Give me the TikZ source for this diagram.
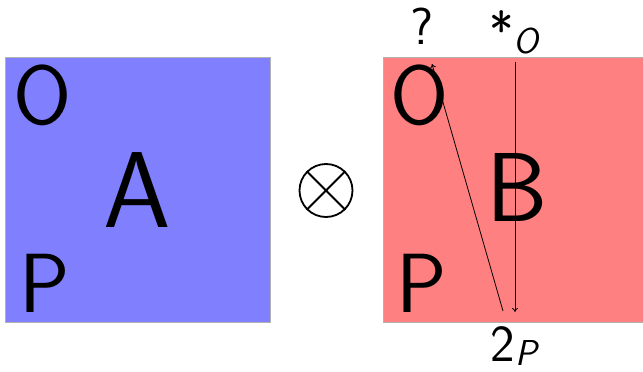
\documentclass[tikz,border=0pt]{standalone}
\usepackage{fontspec}
\usetikzlibrary{arrows.meta}
\tikzset{
  boxframe/.style={draw=black!30, line width=1pt},
  biglbl/.style={font=\sffamily\fontsize{84}{90}\selectfont, inner sep=0pt, anchor=base},
  titlelbl/.style={font=\sffamily\fontsize{#1}{#1}\selectfont, inner sep=0pt, anchor=base},
  portlbl/.style={font=\sffamily\fontsize{52}{60}\selectfont, inner sep=0pt, anchor=base},
  wire/.style={line width=0.8pt, -{To[length=4pt,width=6pt]}},
}
\newcommand{\subit}[2]{\raisebox{#1}{\fontsize{36}{40}\selectfont\itshape #2}}
\begin{document}
\begin{tikzpicture}[x=1pt,y=-1pt]
\useasboundingbox (0,0) rectangle (643,372);
\clip (0,0) rectangle (643,372);
% box A
\path[boxframe, fill={rgb,255:red,128;green,128;blue,255}] (5,57) rectangle (270,322);
% box B
\path[boxframe, fill={rgb,255:red,255;green,128;blue,128}] (383,57) rectangle (660,322);
% labels A
\node[biglbl] (ao) at (42.5,124) {O};
\node[biglbl] (ap) at (45,312) {P};
\node[titlelbl=108] (at) at (137.5,227) {A};
% labels B
\node[biglbl] (bo) at (420,124) {O};
\node[biglbl] (bp) at (422,312) {P};
\node[titlelbl=98] (bt) at (517,221) {B};
% tensor
\node[circle, draw, line width=1.8pt, minimum size=53pt, inner sep=0pt] (ot) at (326,190.5) {};
\draw[line width=1.8pt] (ot.north west) -- (ot.south east) (ot.north east) -- (ot.south west);
% port labels
\node[portlbl] (q) at (422,45) {?};
\node[portlbl] (so) at (514,49) {*\subit{-4pt}{O}};
\node[portlbl] (tp) at (514,361) {2\subit{-4pt}{P}};
% wires
\coordinate (vtop) at (515,62);
\coordinate (vbot) at (515,312);
\coordinate (dbot) at (503,311);
\coordinate (dtop) at (432,64);
\draw[wire] (vtop) -- (vbot);
\draw[wire] (dbot) -- (dtop);
\end{tikzpicture}
\end{document}
